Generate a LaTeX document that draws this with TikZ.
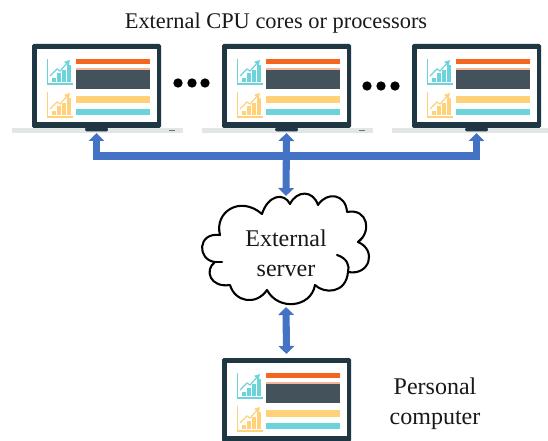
\documentclass[tikz,border=0pt]{standalone}
\usepackage{fontspec}
\setmainfont{Liberation Serif}
\usetikzlibrary{arrows.meta}
\definecolor{framec}{HTML}{1F3743}
\definecolor{basec}{HTML}{E3E6E6}
\definecolor{orangec}{HTML}{F4661F}
\definecolor{lightorangec}{HTML}{F3B49A}
\definecolor{slatec}{HTML}{44525C}
\definecolor{yellowc}{HTML}{FFD27A}
\definecolor{cyanc}{HTML}{6CD3DA}
\definecolor{linkc}{HTML}{4472C4}
\tikzset{
  x=0.75pt,y=-0.75pt,
  title text/.style={font=\fontsize{16.8pt}{22.5pt}\selectfont,align=center,text=black!90,inner sep=0pt},
  label text/.style={font=\fontsize{18pt}{22.5pt}\selectfont,align=center,text=black!90,inner sep=0pt},
  link/.style={draw=linkc,line width=5.3pt,line join=miter,{Triangle[width=11.5pt,length=6pt]}-{Triangle[width=11.5pt,length=6pt]}},
  dotnode/.style={circle,fill=black,inner sep=0pt,minimum size=7pt},
  notchnode/.style={rectangle,fill=framec,inner sep=0pt,minimum width=17pt,minimum height=3pt,rounded corners=1pt},
  cloudline/.style={draw=black,line width=1.55pt,line cap=round,line join=round},
}
% #1 x shift, #2 y shift, #3 name
\newcommand{\laptopfig}[3]{%
\begin{scope}[shift={(#1,#2)}]
  \fill[basec] (12,128) rectangle (183,133.5);
  \fill[framec!70] (169,130) rectangle (175,131.2);
  \fill[framec,rounded corners=1.2pt] (32,44) rectangle (161,128);
  \fill[white] (37,49) rectangle (157,122);
  \node[notchnode] (#3) at (96.5,129.5) {};
  \fill[orangec] (75.5,59) rectangle (150,64);
  \fill[lightorangec] (75.5,68) rectangle (150,70);
  \fill[slatec] (75.5,70) rectangle (150,89);
  \fill[yellowc] (75.5,96) rectangle (150,103);
  \fill[cyanc] (75.5,109) rectangle (150,115);
  \foreach \c/\d in {cyanc/0,yellowc/33}{
    \begin{scope}[shift={(0,\d)}]
      \draw[\c,line width=0.8pt] (47.5,59) -- (47.5,84) -- (73,84);
      \fill[\c] (52,78) rectangle (55.8,82);
      \fill[\c] (57,73.5) rectangle (60.8,82);
      \fill[\c] (62,70) rectangle (65.8,82);
      \fill[\c] (67,65) rectangle (70.8,82);
      \draw[\c,line width=0.9pt,-{Triangle[width=4.5pt,length=4pt]}] (50,76) -- (57,69) -- (60,71) -- (70,60);
    \end{scope}
  }
\end{scope}}
\begin{document}
\begin{tikzpicture}
\useasboundingbox (0,0) rectangle (548,441);
\clip (0,0) rectangle (548,441);
\fill[white] (0,0) rectangle (548,441);
\laptopfig{0}{0}{lapA}
\laptopfig{190}{0}{lapB}
\laptopfig{380}{0}{lapC}
\laptopfig{190}{314}{lapD}
\node[title text] (title) at (276,23) {External CPU cores or processors};
\node[dotnode] (d1) at (178,83) {};
\node[dotnode] (d2) at (192,83) {};
\node[dotnode] (d3) at (205,83) {};
\node[dotnode] (d4) at (367,86) {};
\node[dotnode] (d5) at (381,86) {};
\node[dotnode] (d6) at (395,86) {};
% cloud
\draw[cloudline,fill=white]
  (215,262) .. controls (197,260) and (197,232) .. (220,235)
  .. controls (214,212) and (240,195) .. (262,214)
  .. controls (268,195) and (284,192) .. (290,204)
  .. controls (297,190) and (313,190) .. (318,205)
  .. controls (327,191) and (346,194) .. (347,212)
  .. controls (368,208) and (372,232) .. (358,242)
  .. controls (377,250) and (370,276) .. (348,272)
  .. controls (346,294) and (324,294) .. (315,285)
  .. controls (311,308) and (278,311) .. (267,290)
  .. controls (256,306) and (235,302) .. (230,285)
  .. controls (210,288) and (204,270) .. (215,262) -- cycle;
\draw[cloudline] (215,262) -- (222,262);
\draw[cloudline] (337,255) .. controls (347,258) and (350,266) .. (348,272);
\draw[cloudline] (358,242) -- (362,238);
\node[label text] (server) at (286,253) {External\\server};
\coordinate (serverTop) at (286,196);
\coordinate (serverBottom) at (286,307);
\node[label text] (pc) at (435,403.5) {Personal\\computer};
% links
\coordinate (bus) at (286,156);
\draw[link] (lapA.south |- 0,133) -- (lapA.south |- bus) -- (lapC.south |- bus) -- (lapC.south |- 0,133);
\draw[link] (lapB.south |- 0,133) -- (serverTop);
\draw[link] (serverBottom) -- (lapD.north |- 0,354);
\end{tikzpicture}
\end{document}
